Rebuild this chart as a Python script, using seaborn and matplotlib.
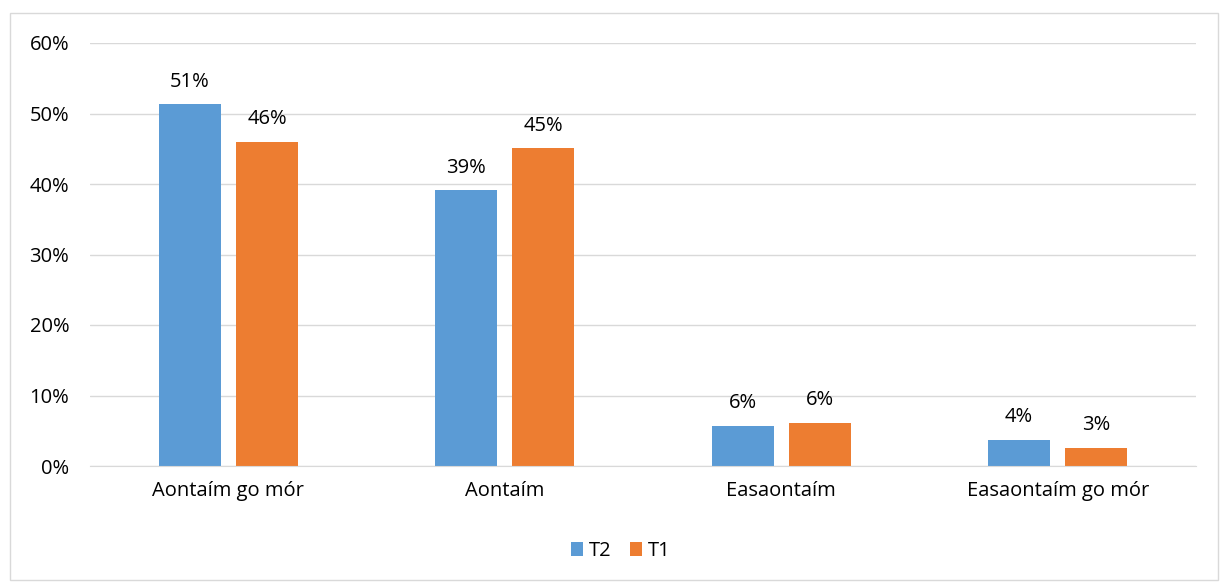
import pandas as pd
import matplotlib.pyplot as plt
import seaborn as sns
from matplotlib.patches import Rectangle

# data (percent)
categories = ["Aontaím go mór", "Aontaím", "Easaontaím", "Easaontaím go mór"]
t2_values = [51.3, 39.1, 5.7, 3.7]
t1_values = [46.0, 45.1, 6.1, 2.6]
series_names = ["T2", "T1"]
colors = ["#5B9BD5", "#ED7D31"]

df = pd.DataFrame({
    "category": categories * 2,
    "value": t2_values + t1_values,
    "series": [series_names[0]] * 4 + [series_names[1]] * 4,
})

sns.set_style("white")
plt.rcParams["font.family"] = ["Open Sans", "DejaVu Sans"]
plt.rcParams["text.color"] = "black"
fs = 14.5

fig = plt.figure(figsize=(12.21, 5.83), dpi=100)
ax = fig.add_axes([90 / 1221, 1 - 466 / 583, (1196 - 90) / 1221, (466 - 43) / 583])

sns.barplot(data=df, x="category", y="value", hue="series",
            hue_order=series_names, palette=colors, order=categories,
            width=0.56, gap=0.2, saturation=1, linewidth=0,
            ax=ax, legend=True)

ax.set_ylim(0, 60)
ax.set_xlim(-0.5, 3.5)
ax.set_yticks(range(0, 61, 10))
ax.set_yticklabels([f"{v}%" for v in range(0, 61, 10)], fontsize=fs)
ax.tick_params(axis="x", labelsize=fs, length=0, pad=11, labelcolor="black")
ax.tick_params(axis="y", length=0, pad=15, labelcolor="black")
ax.set_xlabel("")
ax.set_ylabel("")
ax.yaxis.grid(True, color="#d9d9d9", linewidth=1)
ax.set_axisbelow(True)
for s in ["top", "right", "left"]:
    ax.spines[s].set_visible(False)
ax.spines["bottom"].set_color("#d9d9d9")

for cont in ax.containers:
    ax.bar_label(cont, labels=[f"{v:.0f}%" for v in cont.datavalues],
                 padding=9, fontsize=fs)

handles, labels = ax.get_legend_handles_labels()
ax.legend(handles, labels, loc="center", bbox_to_anchor=(0.48, -0.2),
          ncol=2, frameon=False, fontsize=fs, handlelength=0.6,
          handleheight=0.7, handletextpad=0.3, columnspacing=0.9)

fig.patches.append(Rectangle((10 / 1221, 3 / 583), 1208 / 1221, 567 / 583,
                             transform=fig.transFigure, fill=False,
                             edgecolor="#d9d9d9", linewidth=1))

fig.savefig("out.png", dpi=100)
